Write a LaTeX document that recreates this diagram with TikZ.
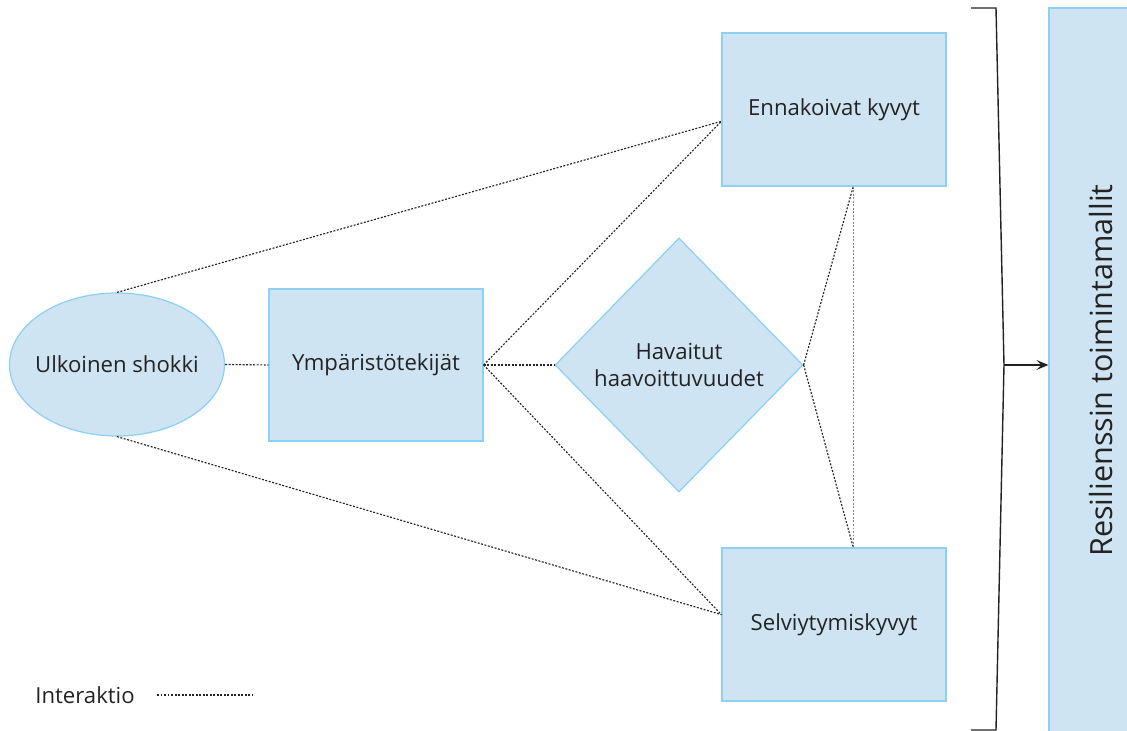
\documentclass[tikz,border=0pt]{standalone}
\usepackage{fontspec}
\setmainfont{Open Sans}
\usetikzlibrary{shapes.geometric}
\usetikzlibrary{arrows.meta}
\definecolor{boxfill}{RGB}{207,228,242}
\definecolor{boxedge}{RGB}{140,208,242}
\definecolor{inkgray}{RGB}{35,35,35}

\begin{document}
\begin{tikzpicture}[
  lbox/.style={draw=boxedge,fill=boxfill,line width=0.7pt,text=inkgray,font=\fontsize{12.6}{15}\selectfont,align=center},
  interaktio/.style={inkgray,dash pattern=on 1.1pt off 0.9pt,line width=0.65pt}]
\useasboundingbox (0,0) rectangle (22.54,14.62);

\node[lbox,ellipse,minimum width=4.3cm,minimum height=2.86cm,inner xsep=-0.12cm,inner ysep=0pt] (ulk) at (2.34,7.33) {Ulkoinen shokki};
\node[lbox,rectangle,minimum width=4.28cm,minimum height=3.04cm] (ymp) at (7.52,7.32) {Ympäristötekijät};
\node[lbox,diamond,minimum width=4.96cm,minimum height=5.08cm,inner sep=0pt] (hav) at (13.58,7.32) {Havaitut\\haavoittuvuudet};
\node[lbox,rectangle,minimum width=4.48cm,minimum height=3.06cm] (enn) at (16.68,12.43) {Ennakoivat kyvyt};
\node[lbox,rectangle,minimum width=4.48cm,minimum height=3.06cm] (selv) at (16.68,2.13) {Selviytymiskyvyt};
\node[lbox,rectangle,minimum width=2.1cm,minimum height=14.5cm] (res) at (22.03,7.21) {};
\node[text=inkgray,font=\fontsize{17.4}{20}\selectfont,rotate=90] (restext) at (res.center) {Resilienssin toimintamallit};

\draw[interaktio] (ulk.north) -- (enn.186);
\draw[interaktio] (ulk.south) -- (selv.175);
\draw[interaktio] (ulk.east) -- (ymp.west);
\draw[interaktio] (ymp.east) -- (enn.186);
\draw[interaktio] (ymp.east) -- (hav.west);
\draw[interaktio] (ymp.east) -- (selv.175);
\draw[interaktio] (hav.east) -- (enn.284);
\draw[interaktio] (hav.east) -- (selv.76);
\draw[interaktio,gray] (enn.284) -- (selv.76);

% hakasulje
\coordinate (brA) at (19.42,14.46);
\coordinate (brB) at (19.92,14.46);
\coordinate (brtip) at (20.08,7.32);
\coordinate (brC) at (19.92,0.02);
\coordinate (brD) at (19.42,0.02);
\draw[inkgray,line width=0.8pt] (brA) -- (brB) -- (brtip) -- (brC) -- (brD);
\draw[inkgray,line width=0.7pt,-{Stealth[length=2.4mm,width=2mm,inset=1mm]}] (brtip) -- (res.west |- brtip);

\node[text=inkgray,font=\fontsize{12.6}{15}\selectfont,anchor=west,inner sep=0pt] (leg) at (0.7,0.72) {Interaktio};
\coordinate (legA) at (3.14,0.72);
\coordinate (legB) at (5.06,0.72);
\draw[interaktio] (legA) -- (legB);

\end{tikzpicture}
\end{document}
